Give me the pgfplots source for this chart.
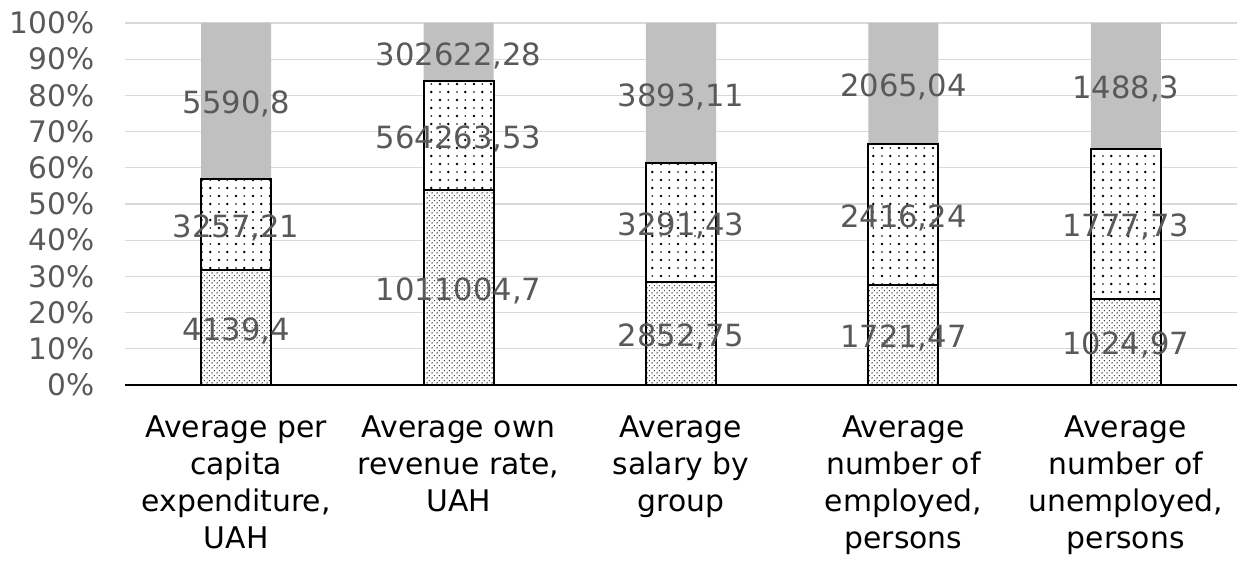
\documentclass[border=0pt]{standalone}
\usepackage{pgfplots}
\pgfplotsset{compat=1.18}
\usepackage{fontspec}
\setmainfont{DejaVu Sans}
\usetikzlibrary{patterns}
\definecolor{topgray}{RGB}{192,192,192}
\definecolor{txtgray}{RGB}{89,89,89}
\definecolor{gridgray}{RGB}{217,217,217}

\pgfdeclarepatternformonly{densedots}{\pgfqpoint{0pt}{0pt}}{\pgfqpoint{2.6pt}{2.6pt}}{\pgfqpoint{2.6pt}{2.6pt}}{%
  \pgfpathcircle{\pgfqpoint{0.6pt}{0.6pt}}{0.42pt}%
  \pgfpathcircle{\pgfqpoint{1.9pt}{1.9pt}}{0.32pt}%
  \pgfusepath{fill}}
\pgfdeclarepatternformonly{sparsedots}{\pgfqpoint{0pt}{0pt}}{\pgfqpoint{8.4pt}{8pt}}{\pgfqpoint{8.4pt}{8pt}}{%
  \pgfpathcircle{\pgfqpoint{1pt}{1pt}}{0.68pt}%
  \pgfpathcircle{\pgfqpoint{5.2pt}{1pt}}{0.45pt}%
  \pgfpathcircle{\pgfqpoint{1pt}{5pt}}{0.45pt}%
  \pgfpathcircle{\pgfqpoint{5.2pt}{5pt}}{0.68pt}%
  \pgfusepath{fill}}

\pgfplotstableread{
x y label
0 15.936 4139,4
1 26.919 1011004,7
2 14.210 2852,75
3 13.877 1721,47
4 11.943 1024,97
0 44.412 3257,21
1 68.861 564263,53
2 44.816 3291,43
3 47.230 2416,24
4 44.601 1777,73
0 78.476 5590,8
1 91.943 302622,28
2 80.607 3893,11
3 83.353 2065,04
4 82.657 1488,3
}\labeltable

\begin{document}
\begin{tikzpicture}
\begin{axis}[
  name=ax,
  scale only axis, width=556bp, height=181bp,
  ybar stacked, bar width=0.315,
  xmin=-0.5, xmax=4.5, ymin=0, ymax=100,
  xtick={0,1,2,3,4},
  xticklabels={{Average per\\capita\\expenditure,\\UAH},{Average own\\revenue rate,\\UAH},{Average\\salary by\\group},{Average\\number of\\employed,\\persons},{Average\\number of\\unemployed,\\persons}},
  ytick={0,10,20,30,40,50,60,70,80,90,100},
  yticklabels={0\%,10\%,20\%,30\%,40\%,50\%,60\%,70\%,80\%,90\%,100\%},
  major tick length=0pt,
  ymajorgrids, grid style={gridgray, line width=0.6bp},
  axis x line*=bottom, axis y line*=left,
  y axis line style={draw=none},
  x axis line style={black, line width=0.8bp},
  xticklabel style={align=center, font=\fontsize{14.9bp}{18.5bp}\selectfont, text=black, inner sep=0pt, anchor=north, yshift=-15bp},
  yticklabel style={anchor=east, inner sep=0pt, xshift=-15bp, text=txtgray, font=\fontsize{14.8bp}{18bp}\selectfont},
]
\addplot[fill=white, draw=black, line width=1bp, postaction={pattern=densedots}] coordinates {(0,31.872) (1,53.837) (2,28.421) (3,27.753) (4,23.886)};
\addplot[fill=white, draw=black, line width=1bp, postaction={pattern=sparsedots}] coordinates {(0,25.080) (1,30.048) (2,32.792) (3,38.954) (4,41.429)};
\addplot[fill=topgray, draw=none] coordinates {(0,43.048) (1,16.115) (2,38.787) (3,33.293) (4,34.685)};
\end{axis}
\begin{axis}[
  at={(ax.south west)}, anchor=south west,
  scale only axis, width=556bp, height=181bp,
  xmin=-0.5, xmax=4.5, ymin=0, ymax=100,
  hide axis, clip=false,
]
\addplot[only marks, mark=*, mark size=0pt, mark options={draw=none, fill=none},
  nodes near coords, point meta=explicit symbolic,
  every node near coord/.append style={anchor=base, inner sep=0pt, yshift=-6.5bp, text=txtgray, font=\fontsize{15.3bp}{18bp}\selectfont}]
  table[x=x, y=y, meta=label] {\labeltable};
\end{axis}
\pgfresetboundingbox
\path ([shift={(-62.5bp,-90bp)}]ax.south west) rectangle ([shift={(1bp,11.5bp)}]ax.north east);
\end{tikzpicture}
\end{document}
